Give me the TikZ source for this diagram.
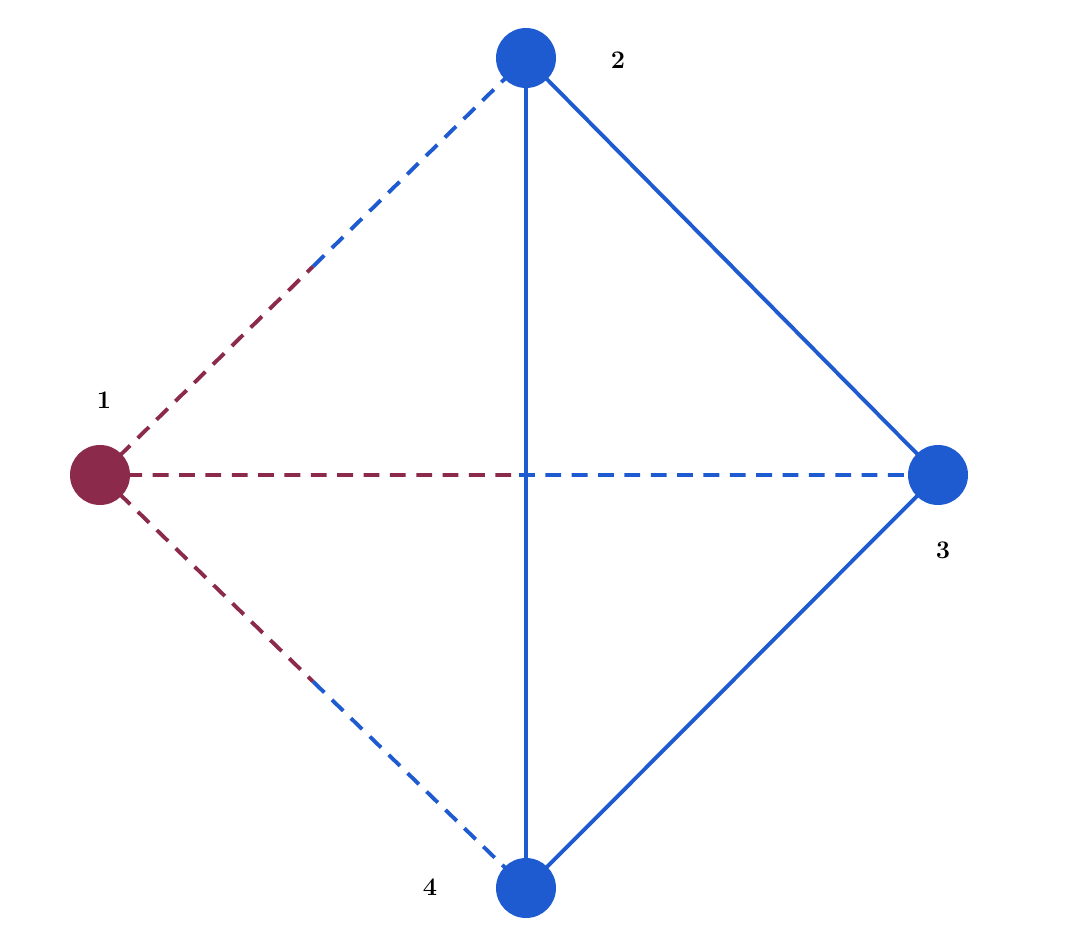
\documentclass[tikz,border=0pt]{standalone}
\usetikzlibrary{calc}
\begin{document}
\begin{tikzpicture}[x=0.02cm,y=-0.02cm,
  bl/.style={draw=nblue,line width=2.2pt},
  dsh/.style={line width=2.2pt,dash pattern=on 9pt off 6pt},
  dot/.style={circle,minimum size=1.2cm,inner sep=0pt},
  lab/.style={font=\bfseries\Large}]
\definecolor{nblue}{HTML}{1E5BD1}
\definecolor{nred}{HTML}{8B2A4B}
\useasboundingbox (0,0) rectangle (1070,942);
\coordinate (c1) at (100,475);
\coordinate (c2) at (526,58);
\coordinate (c3) at (938,475);
\coordinate (c4) at (526,888);
\draw[dsh,nred] (c1) -- ($(c1)!0.5!(c2)$) coordinate (m12);
\draw[dsh,nblue] (m12) -- (c2);
\draw[dsh,nred] (c1) -- ($(c1)!0.5!(c3)$) coordinate (m13);
\draw[dsh,nblue] (m13) -- (c3);
\draw[dsh,nred] (c1) -- ($(c1)!0.5!(c4)$) coordinate (m14);
\draw[dsh,nblue] (m14) -- (c4);
\draw[bl] (c2) -- (c3) -- (c4) -- (c2);
\node[dot,fill=nred] (n1) at (c1) {};
\node[dot,fill=nblue] (n2) at (c2) {};
\node[dot,fill=nblue] (n3) at (c3) {};
\node[dot,fill=nblue] (n4) at (c4) {};
\node[lab] (l1) at (104,400) {1};
\node[lab] (l2) at (618,60) {2};
\node[lab] (l3) at (943,550) {3};
\node[lab] (l4) at (430,887) {4};
\end{tikzpicture}
\end{document}
